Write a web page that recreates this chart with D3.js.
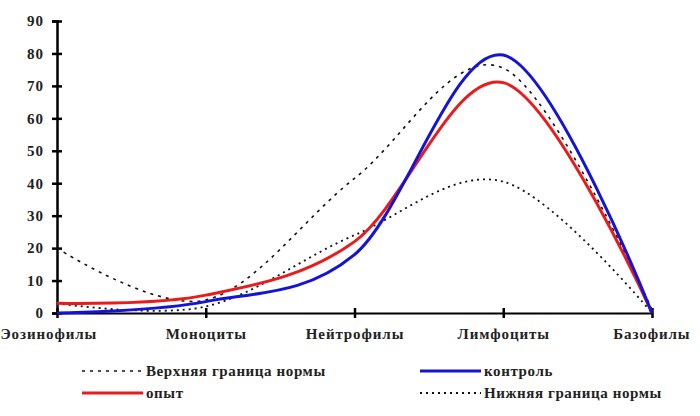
<!DOCTYPE html>
<html><head><meta charset="utf-8">
<script src="https://cdn.jsdelivr.net/npm/d3@7"></script>
<style>body{margin:0;background:#fff;}</style>
</head><body><svg id="c" width="700" height="416"></svg>
<script>
const categories = ["Эозинофилы","Моноциты","Нейтрофилы","Лимфоциты","Базофилы"];
const upperNorm = [20, 4, 41.5, 75.5, 1];
const control = [0, 3.5, 18, 79.5, 0];
const experiment = [3, 5.5, 22, 71, 0];
const lowerNorm = [3, 2, 24, 40.5, 0];
const yTicks = [0,10,20,30,40,50,60,70,80,90];
const legendLabels = ["Верхняя граница нормы","контроль","опыт","Нижняя граница нормы"];

const FONT = "'Liberation Serif', 'Times New Roman', serif";
const svg = d3.select("#c");
const x = d3.scalePoint().domain(categories).range([57, 652]);
const y = d3.scaleLinear().domain([0, 90]).range([313, 21]);

// axes
const yAxis = svg.append("g").attr("transform","translate(57,0)")
  .call(d3.axisLeft(y).tickValues(yTicks).tickSize(5).tickPadding(8));
yAxis.select(".domain").attr("stroke","#000").attr("stroke-width",2.5);
yAxis.selectAll(".tick line").attr("stroke-width",2.5).attr("x2",5).attr("x1",-5);
yAxis.attr("font-family", FONT).attr("font-weight","bold").attr("font-size",15);
yAxis.selectAll("text").attr("fill","#222").attr("letter-spacing",1);

const xAxis = svg.append("g").attr("transform","translate(0,313)")
  .call(d3.axisBottom(x).tickSize(5).tickPadding(10).tickSizeOuter(0));
xAxis.select(".domain").attr("stroke","#000").attr("stroke-width",2);
xAxis.selectAll(".tick line").attr("stroke-width",2.5).attr("y1",-5).attr("y2",5);
xAxis.attr("font-family", FONT).attr("font-weight","bold").attr("font-size",15);
xAxis.selectAll("text").attr("fill","#222").attr("letter-spacing",0.9);
xAxis.selectAll(".tick").filter((d,i)=>i===0).select("text").attr("text-anchor","start").attr("x",-57);
xAxis.selectAll(".tick").filter((d,i)=>i===4).select("text").attr("text-anchor","end").attr("x",38);

const line = d3.line().x((d,i)=>x(categories[i])).y(d=>y(d)).curve(d3.curveCardinal.tension(0));

const series = [
  {data: upperNorm, color:"#111", w:1.6, dash:"3,5"},
  {data: lowerNorm, color:"#111", w:1.8, dash:"2,4"},
  {data: experiment, color:"#e81c1c", w:3, dash:null},
  {data: control, color:"#1414d8", w:3, dash:null}
];
series.forEach(s=>{
  svg.append("path").attr("d", line(s.data)).attr("fill","none")
    .attr("stroke", s.color).attr("stroke-width", s.w)
    .attr("stroke-dasharray", s.dash).attr("stroke-linejoin","round");
});

// legend
const leg = [
  {label:legendLabels[0], x:82, y:371, color:"#111", w:1.6, dash:"3,5"},
  {label:legendLabels[1], x:420, y:371, color:"#1414d8", w:3, dash:null},
  {label:legendLabels[2], x:82, y:393, color:"#e81c1c", w:3, dash:null},
  {label:legendLabels[3], x:420, y:393, color:"#111", w:1.8, dash:"2,4"}
];
leg.forEach(l=>{
  svg.append("line").attr("x1",l.x).attr("x2",l.x+61).attr("y1",l.y).attr("y2",l.y)
    .attr("stroke",l.color).attr("stroke-width",l.w).attr("stroke-dasharray",l.dash);
  svg.append("text").attr("x",l.x+64).attr("y",l.y+5).attr("font-size",15).attr("letter-spacing",0.6)
    .attr("font-family",FONT).attr("font-weight","bold").attr("fill","#222").text(l.label);
});
</script></body></html>
